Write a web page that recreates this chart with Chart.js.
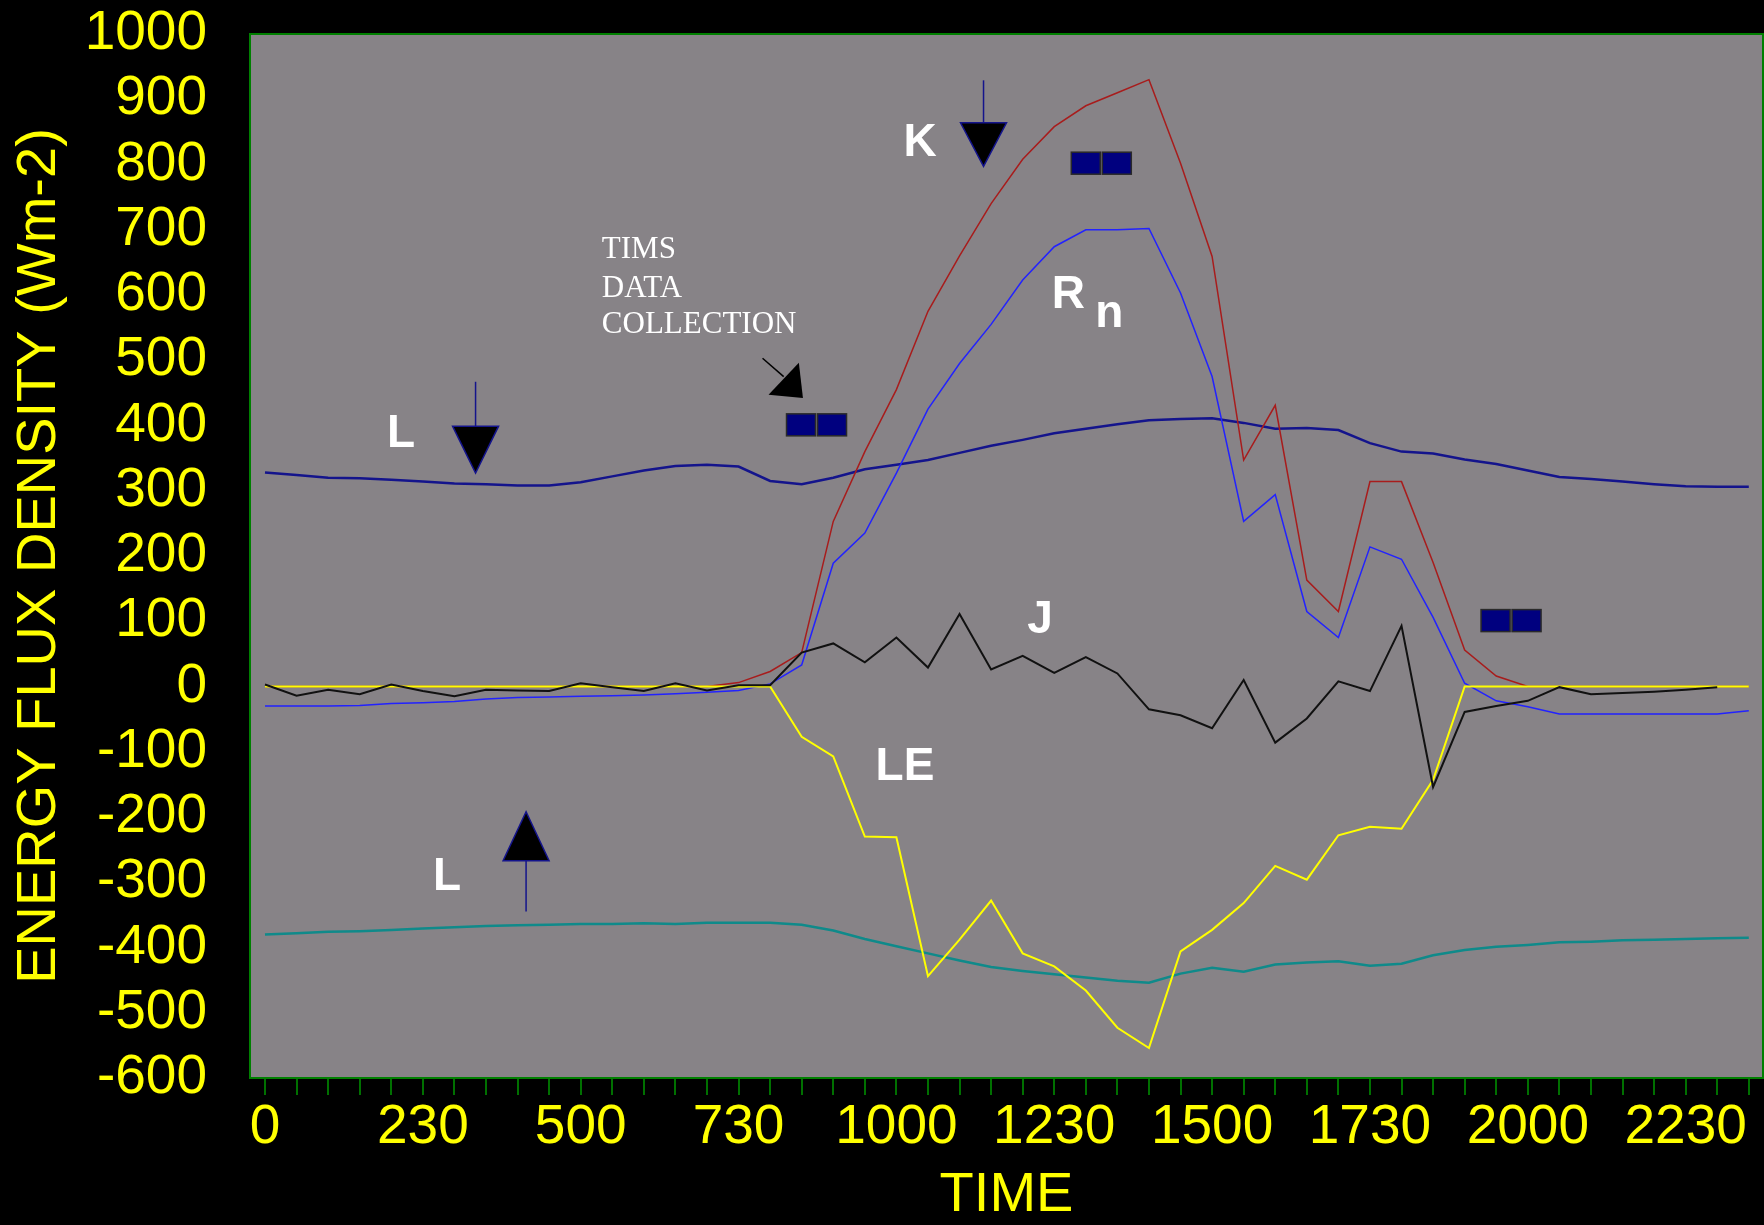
<!DOCTYPE html>
<html>
<head>
<meta charset="utf-8">
<script src="https://cdn.jsdelivr.net/npm/chart.js@4/dist/chart.umd.min.js"></script>
<style>
  html, body { margin: 0; padding: 0; background: #000; }
  canvas { display: block; }
</style>
</head>
<body>
<canvas id="flux-chart" width="1764" height="1225"></canvas>
<script>
// half-hour steps through the day (hhmm)
const times = ['0','30','100','130','200','230','300','330','400','430','500','530',
  '600','630','700','730','800','830','900','930','1000','1030','1100','1130',
  '1200','1230','1300','1330','1400','1430','1500','1530','1600','1630','1700','1730',
  '1800','1830','1900','1930','2000','2030','2100','2130','2200','2230','2300','2330'];
const tickLabels = ['0','230','500','730','1000','1230','1500','1730','2000','2230'];

// energy flux density, Wm-2
const kDown = [0,0,0,0,0,0,0,0,0,0,0,0,0,0,0,6,23,52,253,360,455,575,660,740,
  808,858,890,910,930,802,659,347,431,163,115,314,314,190,56,16,0,0,0,0,0,0,0,0];
const netRad = [-30,-30,-30,-29,-26,-25,-23,-19,-17,-16,-15,-14,-13,-11,-9,-6,4,33,189,235,327,425,495,555,
  623,674,700,700,702,603,475,253,294,115,75,214,195,106,5,-22,-31,-42,-42,-42,-42,-42,-42,-37];
const longDown = [328,324,320,319,317,314,311,310,308,308,313,322,331,338,340,337,315,310,320,333,340,347,358,369,
  378,388,395,402,408,410,411,404,395,396,393,373,360,357,348,341,331,321,318,314,310,307,306,306];
const longUp = [-380,-378,-376,-375,-373,-371,-369,-367,-366,-365,-364,-364,-363,-364,-362,-362,-362,-365,-374,-387,-398,-409,-420,-430,
  -436,-441,-446,-451,-454,-440,-431,-437,-426,-423,-421,-428,-425,-412,-404,-399,-396,-392,-391,-389,-388,-387,-386,-385];
const soilHeat = [3,-14,-5,-12,3,-7,-15,-5,-6,-7,5,-1,-7,5,-6,2,2,52,66,37,75,29,111,26,
  47,21,45,20,-35,-44,-64,10,-86,-49,8,-7,93,-154,-39,-30,-22,-1,-12,-10,-8,-5,-1,null];
const latentHeat = [0,0,0,0,0,0,0,0,0,0,0,0,0,0,0,0,0,-77,-107,-230,-231,-444,-388,-328,
  -409,-429,-466,-523,-554,-406,-373,-332,-275,-296,-228,-215,-218,-143,0,0,0,0,0,0,0,0,0,0];

function points(values) {
  return values.map((v, i) => ({ x: i, y: v }));
}

const axisFont = { family: 'Liberation Sans', size: 55 };

//grey plot area and green frame
const plotFrame = {
  id: 'plotFrame',
  beforeDatasetsDraw(chart) {
    const { ctx, chartArea: a } = chart;
    ctx.save();
    ctx.fillStyle = '#878387';
    ctx.fillRect(a.left, a.top, a.right - a.left, a.bottom - a.top);
    ctx.restore();
  },
  afterDraw(chart) {
    const { ctx, chartArea: a } = chart;
    ctx.save();
    ctx.strokeStyle = '#008000';
    ctx.lineWidth = 2;
    ctx.strokeRect(a.left, a.top, a.right - a.left, a.bottom - a.top);
    ctx.restore();
  }
};

//labels, arrows and satellite marks on the plot
const notes = {
  id: 'notes',
  afterDatasetsDraw(chart) {
    const ctx = chart.ctx;
    const xs = chart.scales.x, ys = chart.scales.y;
    const px = (v) => xs.getPixelForValue(v);
    const py = (v) => ys.getPixelForValue(v);

    function label(text, x, y, font, align) {
      ctx.fillStyle = '#ffffff';
      ctx.font = font;
      ctx.textAlign = align || 'center';
      ctx.textBaseline = 'alphabetic';
      ctx.fillText(text, px(x), py(y));
    }

    function arrow(x, stemEnd, base, tip) {
      const cx = px(x);
      ctx.strokeStyle = '#14148c';
      ctx.lineWidth = 1.5;
      ctx.beginPath();
      ctx.moveTo(cx, py(stemEnd));
      ctx.lineTo(cx, py(base));
      ctx.stroke();
      ctx.beginPath();
      ctx.moveTo(cx - 23, py(base));
      ctx.lineTo(cx + 23, py(base));
      ctx.lineTo(cx, py(tip));
      ctx.closePath();
      ctx.fillStyle = '#000000';
      ctx.fill();
      ctx.stroke();
    }

    function satellite(x, y) {
      const cx = px(x), cy = py(y);
      ctx.fillStyle = '#00007f';
      ctx.strokeStyle = '#2a2a2a';
      ctx.lineWidth = 1.5;
      ctx.fillRect(cx - 30, cy - 11, 29, 22);
      ctx.strokeRect(cx - 30, cy - 11, 29, 22);
      ctx.fillRect(cx + 1, cy - 11, 29, 22);
      ctx.strokeRect(cx + 1, cy - 11, 29, 22);
    }

    ctx.save();
    const bold = 'bold 46px "Liberation Sans"';
    label('K', 20.75, 813, bold);
    label('R', 25.45, 580, bold);
    label('n', 26.74, 551, bold);
    label('L', 4.31, 367, bold);
    label('J', 24.55, 82, bold);
    label('LE', 20.27, -143, bold);
    label('L', 5.77, -312, bold);

    const serif = '31px "Liberation Serif"';
    label('TIMS', 10.67, 657, serif, 'left');
    label('DATA', 10.67, 597, serif, 'left');
    label('COLLECTION', 10.67, 542, serif, 'left');

    arrow(22.76, 929, 864, 797);
    arrow(6.67, 467, 399, 327);
    arrow(8.27, -345, -267, -192);

    // slanted arrow under the TIMS note
    ctx.strokeStyle = '#000000';
    ctx.lineWidth = 1.5;
    ctx.beginPath();
    ctx.moveTo(px(15.76), py(503));
    ctx.lineTo(px(16.43), py(475));
    ctx.stroke();
    ctx.beginPath();
    ctx.moveTo(px(15.95), py(447));
    ctx.lineTo(px(16.91), py(496));
    ctx.lineTo(px(17.04), py(442));
    ctx.closePath();
    ctx.fillStyle = '#000000';
    ctx.fill();

    satellite(26.49, 802);
    satellite(17.47, 401);
    satellite(39.47, 101);
    ctx.restore();
  }
};

new Chart(document.getElementById('flux-chart'), {
  type: 'line',
  data: {
    datasets: [
      { label: 'J', data: points(soilHeat), borderColor: '#111111', borderWidth: 2 },
      { label: 'LE', data: points(latentHeat), borderColor: '#ffff00', borderWidth: 2 },
      { label: 'Rn', data: points(netRad), borderColor: '#2222ff', borderWidth: 1.5 },
      { label: 'K', data: points(kDown), borderColor: '#a81c1c', borderWidth: 1.5 },
      { label: 'L down', data: points(longDown), borderColor: '#14148c', borderWidth: 2.5 },
      { label: 'L up', data: points(longUp), borderColor: '#0f8a8a', borderWidth: 2.5 }
    ]
  },
  options: {
    responsive: false,
    animation: false,
    devicePixelRatio: 1,
    layout: { padding: { top: 0, right: 1, bottom: 0, left: 0 } },
    elements: {
      point: { radius: 0 },
      line: { tension: 0, fill: false }
    },
    plugins: {
      legend: { display: false },
      tooltip: { enabled: false }
    },
    scales: {
      x: {
        type: 'linear',
        min: -0.475,
        max: 47.45,
        afterBuildTicks: function(scale) {
          scale.ticks = times.map(function(t, i) { return { value: i }; });
        },
        afterFit: function(scale) {
          scale.height = 147;
          scale.paddingLeft = 0;
          scale.paddingRight = 0;
        },
        grid: { drawOnChartArea: false, drawTicks: true, tickLength: 17, color: '#007000', lineWidth: 2 },
        border: { display: false },
        ticks: {
          autoSkip: false,
          maxRotation: 0,
          padding: 0,
          color: '#ffff00',
          font: axisFont,
          callback: function(value) {
            return value % 5 === 0 ? tickLabels[value / 5] : '';
          }
        },
        title: {
          display: true,
          text: 'TIME',
          color: '#ffff00',
          font: { family: 'Liberation Sans', size: 56, lineHeight: 1.05 },
          padding: 0
        }
      },
      y: {
        min: -600,
        max: 1000,
        afterFit: function(scale) {
          scale.width = 250;
          scale.paddingTop = 34;
          scale.paddingBottom = 0;
        },
        grid: { display: false, drawTicks: false },
        border: { display: false },
        ticks: {
          stepSize: 100,
          autoSkip: false,
          padding: 43,
          color: '#ffff00',
          font: axisFont,
          callback: function(value) { return String(value); }
        },
        title: {
          display: true,
          text: 'ENERGY FLUX DENSITY (Wm-2)',
          color: '#ffff00',
          font: { family: 'Liberation Sans', size: 56 },
          padding: { top: 6, bottom: 0 }
        }
      }
    }
  },
  plugins: [plotFrame, notes]
});
</script>
</body>
</html>
